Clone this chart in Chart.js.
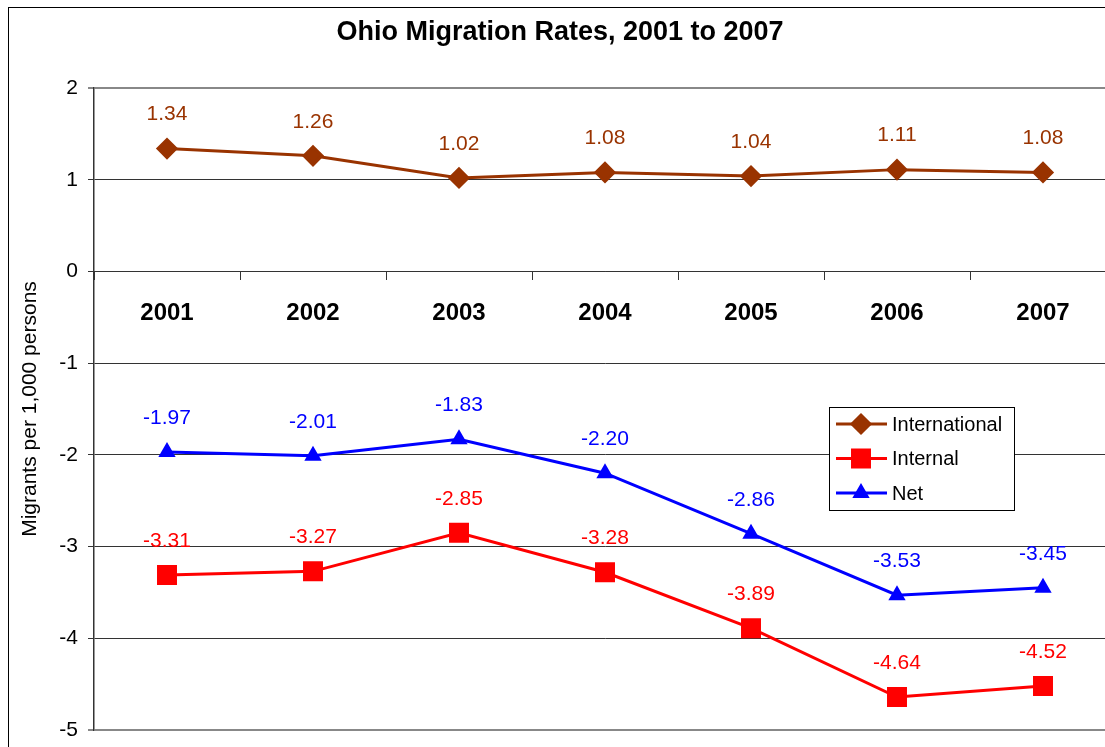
<!DOCTYPE html>
<html>
<head>
<meta charset="utf-8">
<script src="https://cdn.jsdelivr.net/npm/chart.js@4"></script>
<style>
  html, body { margin: 0; padding: 0; background: #fff; overflow: hidden; }
  #wrap { position: relative; width: 1105px; height: 747px; overflow: hidden; }
  #frame { position: absolute; left: 8px; top: 7px; width: 1140px; height: 800px; border: 1px solid #000; pointer-events: none; }
  canvas { position: absolute; left: 0; top: 0; }
</style>
</head>
<body>
<div id="wrap">
  <canvas id="chart" width="1125" height="747" style="width:1125px;height:747px"></canvas>
  <div id="frame"></div>
</div>
<script>
// data
const years = ['2001', '2002', '2003', '2004', '2005', '2006', '2007'];
const international = [1.34, 1.26, 1.02, 1.08, 1.04, 1.11, 1.08];
const internal = [-3.31, -3.27, -2.85, -3.28, -3.89, -4.64, -4.52];
const net = [-1.97, -2.01, -1.83, -2.20, -2.86, -3.53, -3.45];
const yTicks = [2, 1, 0, -1, -2, -3, -4, -5];

const FONT = "'Liberation Sans', Arial, sans-serif";
const BROWN = '#993300', RED = '#ff0000', BLUE = '#0000ff';

// value labels above each point
const valueLabels = {
  id: 'valueLabels',
  afterDatasetsDraw(chart) {
    const ctx = chart.ctx;
    ctx.save();
    ctx.font = '21px ' + FONT;
    ctx.textAlign = 'center';
    ctx.textBaseline = 'middle';
    chart.data.datasets.forEach((ds, i) => {
      const meta = chart.getDatasetMeta(i);
      ctx.fillStyle = ds.borderColor;
      meta.data.forEach((pt, j) => {
        ctx.fillText(ds.data[j].toFixed(2), pt.x, pt.y - 34);
      });
    });
    ctx.restore();
  }
};

// chart title + legend box inside the plot
const decorations = {
  id: 'decorations',
  afterDraw(chart) {
    const ctx = chart.ctx;
    ctx.save();
    ctx.fillStyle = '#000';
    ctx.font = 'bold 27px ' + FONT;
    ctx.textAlign = 'center';
    ctx.textBaseline = 'middle';
    ctx.fillText('Ohio Migration Rates, 2001 to 2007', 560, 33);

    // legend
    const bx = 829, by = 407, bw = 185, bh = 103;
    ctx.fillStyle = '#fff';
    ctx.fillRect(bx, by, bw, bh);
    ctx.strokeStyle = '#000';
    ctx.lineWidth = 1;
    ctx.strokeRect(bx + 0.5, by + 0.5, bw, bh);
    ctx.font = '20px ' + FONT;
    ctx.textAlign = 'left';
    chart.data.datasets.forEach((ds, i) => {
      const y = 424 + i * 34.5;
      ctx.strokeStyle = ds.borderColor;
      ctx.lineWidth = 3;
      ctx.beginPath();
      ctx.moveTo(836, y);
      ctx.lineTo(887, y);
      ctx.stroke();
      Chart.helpers.drawPoint(ctx, {
        pointStyle: ds.pointStyle, radius: ds.pointRadius, borderWidth: 1
      }, 861, y);
      ctx.fillStyle = ds.borderColor;
      ctx.fill();
      ctx.fillStyle = '#000';
      ctx.fillText(ds.label, 892, y + 1);
    });
    ctx.restore();
  }
};

function series(label, data, color, style, r) {
  return {
    label: label, data: data,
    borderColor: color, backgroundColor: color,
    pointBackgroundColor: color, pointBorderColor: color,
    pointStyle: style, pointRadius: r, pointHoverRadius: r,
    borderWidth: 3, tension: 0
  };
}

new Chart(document.getElementById('chart'), {
  type: 'line',
  data: {
    labels: years,
    datasets: [
      series('International', international, BROWN, 'rectRot', 9),
      series('Internal', internal, RED, 'rect', 12),
      series('Net', net, BLUE, 'triangle', 7)
    ]
  },
  options: {
    responsive: false,
    animation: false,
    events: [],
    layout: { autoPadding: false, padding: { top: 88, right: 9, bottom: 17, left: 0 } },
    plugins: { legend: { display: false }, title: { display: false }, tooltip: { enabled: false } },
    scales: {
      x: {
        type: 'category',
        position: { y: 0 },
        offset: true,
        afterFit(scale) { scale.height = 0; },
        grid: { offset: true, drawOnChartArea: false, tickLength: 8, color: '#333' },
        border: { display: true, color: '#333', width: 1 },
        ticks: {
          autoSkip: false, maxRotation: 0, padding: 20, color: '#000',
          font: { family: FONT, size: 24, weight: 'bold' }
        }
      },
      y: {
        min: -5, max: 2,
        afterFit(scale) {
          scale.width = 94;
          scale.paddingTop = 12;
          scale.paddingBottom = 12;
        },
        afterBuildTicks(scale) { scale.ticks = yTicks.map(v => ({ value: v })); },
        grid: {
          tickLength: 6,
          color: c => (c.tick && (c.tick.value === 2 || c.tick.value === -5)) ? '#888' : '#333',
          lineWidth: c => (c.tick && (c.tick.value === 2 || c.tick.value === -5)) ? 2 : 1
        },
        border: { display: true, color: '#333', width: 1.5 },
        ticks: { padding: 10, color: '#000', font: { family: FONT, size: 21 } },
        title: {
          display: true, text: 'Migrants per 1,000 persons', color: '#000',
          font: { family: FONT, size: 21 }, padding: { top: 18, bottom: 0 }
        }
      }
    }
  },
  plugins: [valueLabels, decorations]
});
</script>
</body>
</html>
